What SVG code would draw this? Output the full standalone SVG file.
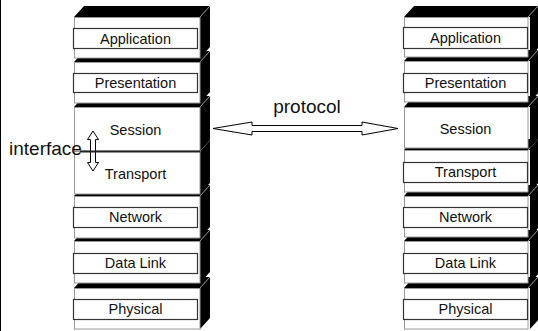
<svg xmlns="http://www.w3.org/2000/svg" width="538" height="331" viewBox="0 0 538 331">
<style>
.blk{fill:#000;stroke:none}
.face{fill:#fff;stroke:#9a9a9a;stroke-width:1}
.inner{fill:#fff;stroke:#333;stroke-width:1.2}
.edge{stroke:#9a9a9a;stroke-width:1;fill:none}
.lbl{font-family:"Liberation Sans",Arial,sans-serif;font-size:14.5px;fill:#111;text-anchor:middle}
.big{font-family:"Liberation Sans",Arial,sans-serif;font-size:19px;fill:#111}
.arr{fill:#fff;stroke:#000;stroke-width:1}
</style>
<rect x="0" y="0" width="538" height="331" fill="#fff"/>
<line x1="0.5" y1="0" x2="0.5" y2="331" stroke="#000" stroke-width="1"/>
<g id="left-stack">
  <g id="L-physical">
    <polygon class="blk" points="74,288 84,277 210,277 210,318 200,329 200,288"/>
    <rect class="face" x="74.5" y="288.5" width="125.5" height="40.5"/>
    <line class="edge" x1="200" y1="288" x2="210" y2="277"/>
    <rect class="inner" x="73.5" y="299.5" width="124" height="20"/>
    <text class="lbl" x="135.5" y="314">Physical</text>
  </g>
  <g id="L-datalink">
    <polygon class="blk" points="74,241 84,230 210,230 210,272 200,283 200,241"/>
    <rect class="face" x="74.5" y="241.5" width="125.5" height="41.5"/>
    <line class="edge" x1="200" y1="241" x2="210" y2="230"/>
    <rect class="inner" x="73.5" y="253.5" width="124" height="20"/>
    <text class="lbl" x="135.5" y="268">Data Link</text>
  </g>
  <g id="L-network">
    <polygon class="blk" points="74,196 84,185 210,185 210,227 200,238 200,196"/>
    <rect class="face" x="74.5" y="196.5" width="125.5" height="41.5"/>
    <line class="edge" x1="200" y1="196" x2="210" y2="185"/>
    <rect class="inner" x="73.5" y="207.5" width="124" height="20"/>
    <text class="lbl" x="135.5" y="222">Network</text>
  </g>
  <g id="L-transport">
    <polygon class="blk" points="74,151 84,140 210,140 210,183 200,194 200,151"/>
    <rect class="face" x="74.5" y="151.5" width="125.5" height="42.5"/>
    <line class="edge" x1="200" y1="151" x2="210" y2="140"/>
    <text class="lbl" x="135.5" y="179">Transport</text>
  </g>
  <g id="L-session">
    <polygon class="blk" points="74,107 84,96 210,96 210,140 200,151 200,107"/>
    <rect class="face" x="74.5" y="107.5" width="125.5" height="43.5"/>
    <line class="edge" x1="200" y1="107" x2="210" y2="96"/>
    <text class="lbl" x="135.5" y="135">Session</text>
  </g>
  <g id="L-presentation">
    <polygon class="blk" points="74,62 84,51 210,51 210,92 200,103 200,62"/>
    <rect class="face" x="74.5" y="62.5" width="125.5" height="40.5"/>
    <line class="edge" x1="200" y1="62" x2="210" y2="51"/>
    <rect class="inner" x="73.5" y="73.5" width="124" height="19"/>
    <text class="lbl" x="135.5" y="88">Presentation</text>
  </g>
  <g id="L-application">
    <polygon class="blk" points="74,17 84,6 210,6 210,47 200,58 200,17"/>
    <rect class="face" x="74.5" y="17.5" width="125.5" height="40.5"/>
    <line class="edge" x1="200" y1="17" x2="210" y2="6"/>
    <rect class="inner" x="73.5" y="28.5" width="124" height="20"/>
    <text class="lbl" x="135.5" y="44">Application</text>
  </g>
</g>
<g id="right-stack">
  <g id="R-physical">
    <polygon class="blk" points="404,288 414,277 540,277 540,318 530,329 530,288"/>
    <rect class="face" x="404.5" y="288.5" width="123.5" height="40.5"/>
    <line class="edge" x1="528" y1="288" x2="538" y2="277"/>
    <rect class="inner" x="403.5" y="299.5" width="124" height="20"/>
    <text class="lbl" x="465.5" y="314">Physical</text>
  </g>
  <g id="R-datalink">
    <polygon class="blk" points="404,241 414,230 540,230 540,272 530,283 530,241"/>
    <rect class="face" x="404.5" y="241.5" width="123.5" height="41.5"/>
    <line class="edge" x1="528" y1="241" x2="538" y2="230"/>
    <rect class="inner" x="403.5" y="253.5" width="124" height="20"/>
    <text class="lbl" x="465.5" y="268">Data Link</text>
  </g>
  <g id="R-network">
    <polygon class="blk" points="404,196 414,185 540,185 540,226 530,237 530,196"/>
    <rect class="face" x="404.5" y="196.5" width="123.5" height="40.5"/>
    <line class="edge" x1="528" y1="196" x2="538" y2="185"/>
    <rect class="inner" x="403.5" y="207.5" width="124" height="20"/>
    <text class="lbl" x="465.5" y="222">Network</text>
  </g>
  <g id="R-transport">
    <polygon class="blk" points="404,150 414,139 540,139 540,181 530,192 530,150"/>
    <rect class="face" x="404.5" y="150.5" width="123.5" height="41.5"/>
    <line class="edge" x1="528" y1="150" x2="538" y2="139"/>
    <rect class="inner" x="403.5" y="162.5" width="124" height="20"/>
    <text class="lbl" x="465.5" y="177">Transport</text>
  </g>
  <g id="R-session">
    <polygon class="blk" points="404,107 414,96 540,96 540,137 530,148 530,107"/>
    <rect class="face" x="404.5" y="107.5" width="123.5" height="40.5"/>
    <line class="edge" x1="528" y1="107" x2="538" y2="96"/>
    <text class="lbl" x="465.5" y="134">Session</text>
  </g>
  <g id="R-presentation">
    <polygon class="blk" points="404,61 414,50 540,50 540,91 530,102 530,61"/>
    <rect class="face" x="404.5" y="61.5" width="123.5" height="40.5"/>
    <line class="edge" x1="528" y1="61" x2="538" y2="50"/>
    <rect class="inner" x="403.5" y="73.5" width="124" height="19"/>
    <text class="lbl" x="465.5" y="88">Presentation</text>
  </g>
  <g id="R-application">
    <polygon class="blk" points="404,17 414,6 540,6 540,46 530,57 530,17"/>
    <rect class="face" x="404.5" y="17.5" width="123.5" height="39.5"/>
    <line class="edge" x1="528" y1="17" x2="538" y2="6"/>
    <rect class="inner" x="403.5" y="27.5" width="124" height="21"/>
    <text class="lbl" x="465.5" y="43">Application</text>
  </g>
</g>
<g id="connectors">
  <path class="arr" d="M213,128.5 L252,122 L252,125.5 L362,125.5 L362,122 L398,128.5 L362,135 L362,131.5 L252,131.5 L252,135 Z"/>
  <path class="arr" d="M93,131 L98.5,139.5 L95.5,139.5 L95.5,162.5 L98.5,162.5 L93,171 L87.5,162.5 L90.5,162.5 L90.5,139.5 L87.5,139.5 Z"/>
  <line x1="80" y1="151.5" x2="200" y2="151.5" stroke="#222" stroke-width="2"/>
</g>
<g id="labels">
  <text class="big" x="307" y="113" text-anchor="middle">protocol</text>
  <text class="big" x="9" y="155">interface</text>
</g>
</svg>
